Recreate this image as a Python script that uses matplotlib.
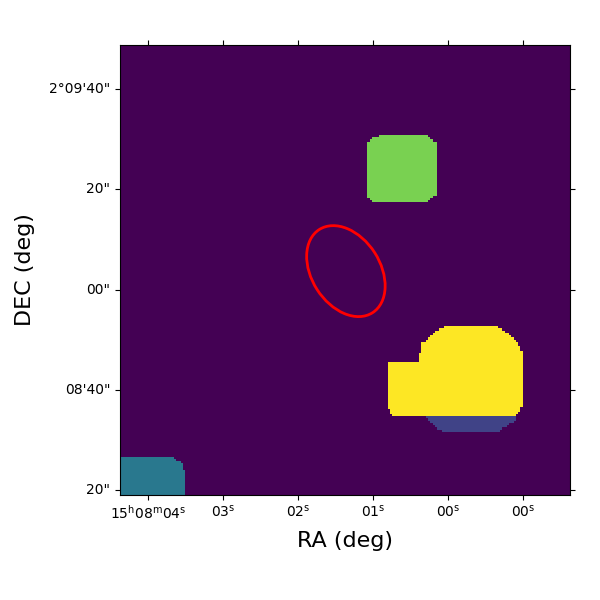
#!/usr/bin/env python3
"""Segmentation map with a red source ellipse, drawn on RA/DEC style axes"""

import numpy as np
import matplotlib
matplotlib.use('Agg')
import matplotlib.pyplot as plt
from matplotlib.patches import Ellipse
from matplotlib.transforms import ScaledTranslation

map_size = 200

# Region label values (viridis scale, 0 to 5)
background_label = 0
blue_label = 1
teal_label = 2
green_label = 4
yellow_label = 5

# Each region: first row, then the (start, stop) columns of every row from there
green_first_row = 40
green_runs = [(115, 137), (112, 138), (111, 139)] + [(110, 141)] * 24 + [(110, 139), (111, 138), (112, 137)]

yellow_first_row = 125
yellow_runs = [(144, 168), (142, 170), (140, 171), (139, 173), (138, 174), (137, 175),
               (136, 176), (134, 177), (134, 177), (134, 178), (134, 178), (134, 179),
               (133, 179), (133, 179), (133, 179), (133, 179)] \
    + [(119, 179)] * 20 \
    + [(119, 178), (120, 178), (120, 177), (121, 176)]

blue_first_row = 165
blue_runs = [(136, 176), (137, 176), (138, 175), (139, 173), (140, 172), (141, 170), (143, 169)]

teal_first_row = 183
teal_runs = [(0, 24), (0, 25), (0, 27), (0, 28), (0, 28), (0, 28)] + [(0, 29)] * 11

# Ellipse (map pixels)
ellipse_center = (99.9, 100.0)
ellipse_width = 43.9
ellipse_height = 30.4
ellipse_angle = 57.3

# Ticks (map pixels)
ra_ticks = [11.94, 45.3, 78.6, 112.0, 145.3, 178.6]
ra_labels = [r'15$^{\mathrm{h}}$08$^{\mathrm{m}}$04$^{\mathrm{s}}$', r'03$^{\mathrm{s}}$',
             r'02$^{\mathrm{s}}$', r'01$^{\mathrm{s}}$', r'00$^{\mathrm{s}}$', r'00$^{\mathrm{s}}$']
dec_ticks = [19.06, 63.6, 108.2, 152.8, 197.3]
dec_labels = ['2°09\'40"', '20"', '00"', '08\'40"', '20"']


def fill_runs(image, first_row, runs, label):
    """Write one region into the label map"""
    for i, (start, stop) in enumerate(runs):
        image[first_row + i, start:stop] = label


segmap = np.full((map_size, map_size), background_label, dtype=float)
fill_runs(segmap, blue_first_row, blue_runs, blue_label)
fill_runs(segmap, teal_first_row, teal_runs, teal_label)
fill_runs(segmap, green_first_row, green_runs, green_label)
fill_runs(segmap, yellow_first_row, yellow_runs, yellow_label)

fig = plt.figure(figsize=(6, 6), dpi=100)
ax = fig.add_axes([0.2, 0.175, 0.75, 0.75])

ax.imshow(segmap, cmap='viridis', vmin=0, vmax=5, origin='upper',
          interpolation='nearest', aspect='equal')
ax.add_patch(Ellipse(ellipse_center, ellipse_width, ellipse_height, angle=ellipse_angle,
                     fill=False, edgecolor='red', linewidth=2))

ax.set_xticks(ra_ticks)
ax.set_xticklabels(ra_labels)
ax.set_yticks(dec_ticks)
ax.set_yticklabels(dec_labels)
ax.tick_params(top=True, right=True, direction='out')
ax.tick_params(axis='x', pad=2.5)

# The DEC labels sit slightly above their ticks in the original
for label in ax.get_yticklabels():
    label.set_transform(label.get_transform() + ScaledTranslation(0, 1.5 / 100, fig.dpi_scale_trans))

ax.set_xlabel('RA (deg)', fontsize=16, labelpad=7)
ax.set_ylabel('DEC (deg)', fontsize=16, labelpad=10)

plt.savefig('out.png', dpi=100)
plt.close()
